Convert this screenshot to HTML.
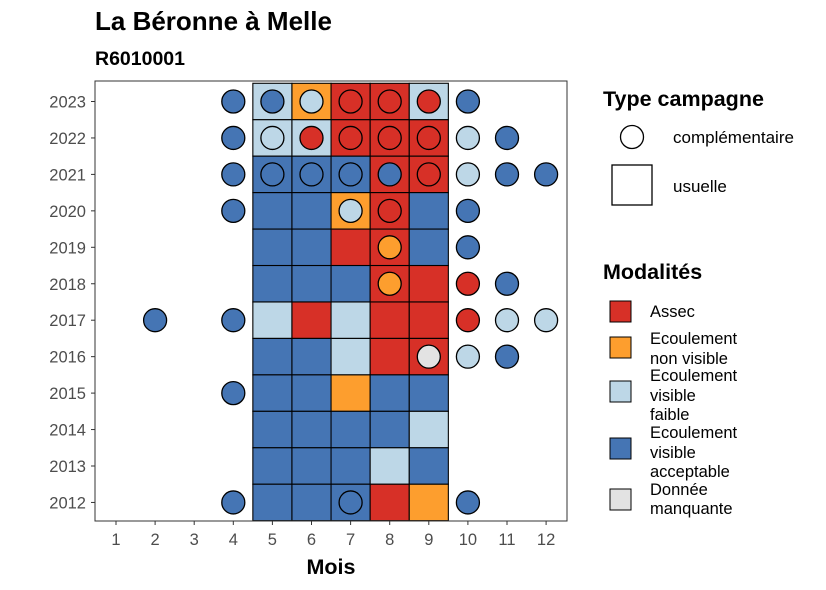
<!DOCTYPE html>
<html><head><meta charset="utf-8"><style>body{margin:0;background:#fff}svg{display:block;font-family:"Liberation Sans",sans-serif}</style></head>
<body>
<svg id="c" width="826" height="590" xmlns="http://www.w3.org/2000/svg">
<text x="95" y="30" font-size="26" font-weight="bold">La Béronne à Melle</text>
<text x="95" y="65" font-size="19.5" font-weight="bold">R6010001</text>
<g id="plot"></g>
<text x="331" y="574" font-size="21.5" font-weight="bold" text-anchor="middle">Mois</text>
<g>
<text x="603" y="106" font-size="21.5" font-weight="bold">Type campagne</text>
<circle cx="632" cy="137" r="11.5" fill="#fff" stroke="#000" stroke-width="1.3"/>
<text x="673" y="143" font-size="17">complémentaire</text>
<rect x="612" y="165" width="40" height="40" fill="#fff" stroke="#000" stroke-width="1.3"/>
<text x="673" y="192" font-size="17">usuelle</text>
</g>
<g>
<text x="603" y="279" font-size="21.5" font-weight="bold">Modalités</text>
<rect x="610" y="301" width="21" height="21" fill="#d73027" stroke="#000"/>
<text x="650" y="317" font-size="16.5">Assec</text>
<rect x="610" y="337" width="21" height="21" fill="#fd9e2e" stroke="#000"/>
<text x="650" y="344" font-size="16.5">Ecoulement</text><text x="650" y="364" font-size="16.5">non visible</text>
<rect x="610" y="381" width="21" height="21" fill="#bdd7e7" stroke="#000"/>
<text x="650" y="381" font-size="16.5">Ecoulement</text><text x="650" y="401" font-size="16.5">visible</text><text x="650" y="420" font-size="16.5">faible</text>
<rect x="610" y="438" width="21" height="21" fill="#4575b4" stroke="#000"/>
<text x="650" y="438" font-size="16.5">Ecoulement</text><text x="650" y="458" font-size="16.5">visible</text><text x="650" y="477" font-size="16.5">acceptable</text>
<rect x="610" y="489" width="21" height="21" fill="#e3e3e3" stroke="#000"/>
<text x="650" y="495" font-size="16.5">Donnée</text><text x="650" y="514" font-size="16.5">manquante</text>
</g>
</svg>
<script>
const years=[2023,2022,2021,2020,2019,2018,2017,2016,2015,2014,2013,2012];
const months=[1,2,3,4,5,6,7,8,9,10,11,12];
const tileMonths=[5,6,7,8,9];
const tiles=["FOAAF","FFAAA","VVVAA","VVOAV","VVAAV","VVVAA","FAFAA","VVFAA","VVOVV","VVVVF","VVVFV","VVVAO"];
const points=[
 [2023,4,"V"],[2023,5,"V"],[2023,6,"F"],[2023,7,"A"],[2023,8,"A"],[2023,9,"A"],[2023,10,"V"],
 [2022,4,"V"],[2022,5,"F"],[2022,6,"A"],[2022,7,"A"],[2022,8,"A"],[2022,9,"A"],[2022,10,"F"],[2022,11,"V"],
 [2021,4,"V"],[2021,5,"V"],[2021,6,"V"],[2021,7,"V"],[2021,8,"V"],[2021,9,"A"],[2021,10,"F"],[2021,11,"V"],[2021,12,"V"],
 [2020,4,"V"],[2020,7,"F"],[2020,8,"A"],[2020,10,"V"],
 [2019,8,"O"],[2019,10,"V"],
 [2018,8,"O"],[2018,10,"A"],[2018,11,"V"],
 [2017,2,"V"],[2017,4,"V"],[2017,10,"A"],[2017,11,"F"],[2017,12,"F"],
 [2016,9,"N"],[2016,10,"F"],[2016,11,"V"],
 [2015,4,"V"],
 [2012,4,"V"],[2012,7,"V"],[2012,10,"V"]];
const col={A:"#d73027",O:"#fd9e2e",F:"#bdd7e7",V:"#4575b4",N:"#e3e3e3"};
const L=95,R=567,T=81,B=521;
const w=39.1;
const xs=m=>116+(m-1)*w;
const step=36.45;
const ys=y=>101.5+(2023-y)*step;
const NS="http://www.w3.org/2000/svg";
const g=document.getElementById("plot");
function mk(t,a){const e=document.createElementNS(NS,t);for(const k in a)e.setAttribute(k,a[k]);g.appendChild(e);return e;}
const bg=mk("rect",{x:L,y:T,width:R-L,height:B-T,fill:"#fff",stroke:"none"});


years.forEach((yr,i)=>{tileMonths.forEach((m,j)=>{
 const r=mk("rect",{x:xs(m)-w/2,y:ys(yr)-step/2,width:w,height:step,fill:col[tiles[i][j]],stroke:"#000","stroke-width":1.1});
 
 
});});
points.forEach(p=>{
 const c=mk("circle",{cx:xs(p[1]),cy:ys(p[0]),r:11.5,fill:col[p[2]],stroke:"#000","stroke-width":1.3});
 
 
});
const fr=mk("rect",{x:L,y:T,width:R-L,height:B-T,fill:"none",stroke:"#333","stroke-width":1});


months.forEach(m=>{
 mk("line",{x1:xs(m),x2:xs(m),y1:B,y2:B+4,stroke:"#333"});
 const t=mk("text",{x:xs(m),y:B+24,"font-size":16.5,fill:"#4d4d4d","text-anchor":"middle"});t.textContent=m;
 
 
});
years.forEach(yr=>{
 mk("line",{x1:L-4,x2:L,y1:ys(yr),y2:ys(yr),stroke:"#333"});
 const t=mk("text",{x:L-9,y:ys(yr)+6,"font-size":16.5,fill:"#4d4d4d","text-anchor":"end"});t.textContent=yr;
 
 
});
</script>
</body></html>
